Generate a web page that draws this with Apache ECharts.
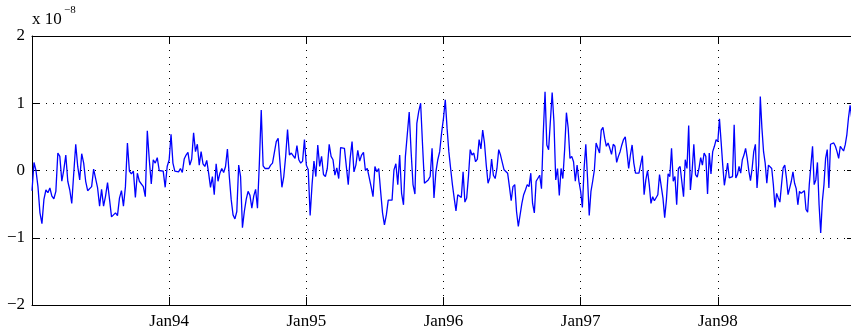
<!DOCTYPE html>
<html>
<head>
<meta charset="utf-8">
<script src="https://cdn.jsdelivr.net/npm/echarts@6/dist/echarts.min.js"></script>
<style>
html,body{margin:0;padding:0;background:#fff;}
#chart{width:851px;height:332px;}
</style>
</head>
<body>
<div id="chart"></div>
<script>
// Values in units of 1e-8, read week by week from the picture, grouped by calendar year
const v1993 = [-0.30, 0.12, 0.00, -0.24, -0.63, -0.79, -0.43, -0.29, -0.33, -0.26, -0.38, -0.42, -0.31, 0.26, 0.21, -0.16, 0.01, 0.23, -0.16, -0.29, -0.49, -0.04, 0.39, 0.06, -0.14, 0.25, 0.11, -0.16, -0.30, -0.32, -0.24, 0.02, 0.01, -0.26, -0.53, -0.28, -0.53, -0.38, -0.18, -0.43, -0.69, -0.70, -0.63, -0.67, -0.41, -0.30, -0.53, -0.24, 0.41, -0.01, -0.05, -0.01, -0.40, -0.04, -0.16, -0.18, -0.24, -0.39, 0.59, 0.16, -0.20, 0.16, 0.11, 0.19, 0.00, 0.02, -0.01, -0.25, 0.06];
const v1994 = [0.16, 0.54, 0.11, -0.01, 0.01, -0.02, 0.03, -0.03, 0.17, 0.23, 0.27, 0.08, 0.17, 0.56, 0.28, 0.39, 0.08, 0.28, 0.10, 0.06, 0.15, -0.04, -0.25, -0.09, -0.36, 0.10, -0.16, -0.04, 0.03, -0.03, 0.06, 0.32, -0.09, -0.43, -0.66, -0.72, -0.61, 0.08, -0.09, -0.85, -0.61, -0.43, -0.31, -0.37, -0.56, -0.38, -0.28, -0.56, 0.11, 0.90, 0.07, 0.03, 0.03, 0.03, 0.08, 0.11, 0.13, 0.43, 0.48, 0.11, -0.25, -0.09, 0.21, 0.61, 0.23, 0.26, 0.26, 0.18, 0.37, 0.16, 0.11, 0.14, 0.46];
const v1995 = [0.08, 0.01, -0.67, -0.21, 0.14, -0.09, 0.38, 0.06, 0.21, -0.06, -0.09, 0.03, 0.39, 0.21, 0.16, -0.07, 0.04, -0.12, 0.34, 0.36, 0.33, 0.32, -0.21, 0.18, 0.43, -0.02, 0.08, 0.30, 0.14, 0.23, 0.27, 0.00, 0.03, 0.01, -0.24, -0.39, 0.06, -0.02, 0.03, -0.31, -0.63, -0.81, -0.66, -0.44, -0.46, -0.44, 0.01, 0.10, -0.21, 0.23, -0.34, -0.51, 0.21, 0.19, 0.87, 0.28, -0.21, -0.35, 0.70, 0.88, 1.00, 0.38, -0.19, -0.20, -0.14, -0.09, 0.33, -0.41, -0.02, 0.16, 0.28, 0.56];
const v1996 = [0.78, 1.05, 0.63, 0.28, 0.03, -0.21, -0.41, -0.60, -0.36, -0.37, -0.40, -0.02, -0.47, -0.41, -0.09, 0.31, 0.23, 0.26, 0.13, 0.17, 0.46, 0.32, 0.60, 0.41, 0.08, -0.19, -0.11, 0.17, -0.07, -0.12, 0.03, 0.31, 0.23, 0.22, 0.01, 0.00, -0.04, -0.24, -0.45, -0.24, -0.21, -0.61, -0.83, -0.85, -0.49, -0.36, -0.29, -0.21, -0.24, -0.04, -0.49, -0.63, -0.16, -0.14, -0.07, -0.27, 0.55, 1.17, 0.38, 0.31, 0.33, 1.16, 0.72, -0.14, 0.03, -0.37, 0.03, -0.12, 0.31, 0.86, 0.63, 0.18, 0.21, 0.13, -0.16, 0.08, -0.16];
const v1997 = [-0.31, -0.55, 0.03, 0.39, -0.11, -0.67, -0.31, -0.16, 0.01, 0.41, 0.43, 0.26, 0.60, 0.64, 0.48, 0.36, 0.41, 0.33, 0.24, 0.39, 0.36, 0.12, 0.21, 0.28, 0.38, 0.46, 0.50, 0.28, 0.03, 0.23, 0.38, 0.11, -0.04, -0.02, -0.04, -0.06, 0.22, -0.36, -0.14, 0.00, -0.21, -0.49, -0.39, -0.45, -0.46, -0.36, -0.06, -0.05, -0.41, -0.70, -0.44, -0.05, -0.09, 0.33, -0.16, -0.09, -0.51, 0.03, 0.06, 0.06, -0.39, 0.16, 0.03, 0.67, -0.29, -0.01, 0.39, -0.06, -0.10, 0.03, 0.19, 0.08, 0.26, 0.21, -0.35, 0.26, -0.05, 0.28, 0.36, 0.46];
const v1998 = [0.43, 0.77, 0.43, 0.08, -0.22, -0.06, 0.11, -0.11, -0.10, -0.09, 0.68, -0.11, -0.06, 0.06, -0.04, 0.16, 0.23, 0.33, 0.18, -0.01, -0.15, 0.03, 0.28, 0.39, -0.26, 0.08, 1.10, 0.63, 0.28, 0.11, -0.19, 0.08, 0.08, 0.03, -0.21, -0.55, -0.34, -0.41, -0.47, -0.21, 0.04, 0.08, -0.11, -0.36, -0.35, -0.16, -0.02, -0.19, -0.27, -0.51, -0.31, -0.34, -0.34, -0.30, -0.58, -0.62, -0.21, 0.08, 0.36, -0.21, -0.14, 0.12, -0.51, -0.93, -0.46, -0.21, 0.18, 0.31, -0.26, 0.39, 0.38, 0.41, 0.36, 0.28, 0.18, 0.36, 0.38, 0.29, 0.38, 0.53, 0.78, 0.97, 0.78, 0.53];

const years = [1993, 1994, 1995, 1996, 1997, 1998];
const yearValues = [v1993, v1994, v1995, v1996, v1997, v1998];
const yTicks = [-2, -1, 0, 1, 2];
const xTickYears = [1994, 1995, 1996, 1997, 1998];
const scaleText = 'x 10';
const scaleExp = '\u22128';

const data = [];
years.forEach((y, i) => {
  const arr = yearValues[i];
  arr.forEach((v, k) => data.push([y + k / arr.length, v]));
});

const FONT = 'Liberation Serif, Times New Roman, serif';
const dotted = { show: true, lineStyle: { color: '#000', width: 1, type: [1, 6] } };
const tickStyle = { show: true, inside: true, length: 8, lineStyle: { color: '#000', width: 1 } };
const axisLine = { show: true, onZero: false, lineStyle: { color: '#000', width: 1 } };

const chart = echarts.init(document.getElementById('chart'), null, { renderer: 'canvas' });
chart.setOption({
  animation: false,
  backgroundColor: '#fff',
  grid: { left: 32, top: 36, width: 823, height: 269, containLabel: false, outerBoundsMode: 'none' },
  xAxis: [
    {
      type: 'value', position: 'bottom', min: 1993, max: 1999, interval: 1,
      axisLine: axisLine, axisTick: tickStyle, splitLine: dotted,
      axisLabel: {
        show: true, margin: 8, color: '#000', fontFamily: FONT, fontSize: 17,
        formatter: v => xTickYears.indexOf(v) >= 0 ? 'Jan' + String(v).slice(2) : ''
      }
    },
    {
      type: 'value', position: 'top', min: 1993, max: 1999, interval: 1,
      axisLine: axisLine, axisTick: tickStyle, splitLine: { show: false }, axisLabel: { show: false }
    }
  ],
  yAxis: [
    {
      type: 'value', position: 'left', min: yTicks[0], max: yTicks[yTicks.length - 1], interval: 1,
      axisLine: axisLine, axisTick: tickStyle, splitLine: dotted,
      axisLabel: {
        show: true, margin: 7, color: '#000', fontFamily: FONT, fontSize: 17,
        formatter: v => v < 0 ? '\u2212' + Math.abs(v) : String(v)
      }
    },
    {
      type: 'value', position: 'right', min: yTicks[0], max: yTicks[yTicks.length - 1], interval: 1,
      axisLine: axisLine, axisTick: tickStyle, splitLine: { show: false }, axisLabel: { show: false }
    }
  ],
  graphic: [
    { type: 'text', left: 32, top: 11, style: { text: scaleText, font: '17px ' + FONT, fill: '#000' } },
    { type: 'text', left: 64, top: 5, style: { text: scaleExp, font: '11px ' + FONT, fill: '#000' } }
  ],
  series: [{
    type: 'line', xAxisIndex: 0, yAxisIndex: 0, data: data,
    showSymbol: false, symbol: 'none', smooth: false,
    lineStyle: { color: '#0000ff', width: 1.3 }, silent: true
  }]
});
</script>
</body>
</html>
